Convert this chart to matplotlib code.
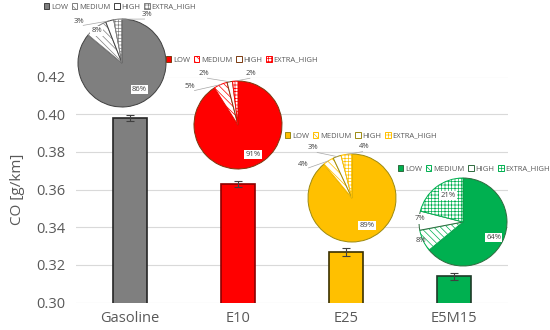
import numpy as np
import matplotlib
matplotlib.use("Agg")
import matplotlib.pyplot as plt

plt.rcParams["font.family"] = ["Open Sans", "DejaVu Sans"]
plt.rcParams["hatch.linewidth"] = 0.5

# data
fuels = ["Gasoline", "E10", "E25", "E5M15"]
co_mean = [0.398, 0.363, 0.327, 0.314]
co_err = [0.0015, 0.0015, 0.002, 0.0017]
load_levels = ["LOW", "MEDIUM", "HIGH", "EXTRA_HIGH"]
share_gasoline = [86, 8, 3, 3]
share_e10 = [91, 5, 2, 2]
share_e25 = [89, 4, 3, 4]
share_e5m15 = [64, 8, 7, 21]
shares = [share_gasoline, share_e10, share_e25, share_e5m15]

# styles
main_col = ["#7F7F7F", "#FF0000", "#FFC000", "#00B050"]
edge_col = ["#404040", "#7B3A10", "#9C8A10", "#2E6B3E"]
bar_edge = ["#262626", "#8B0000", "#3A3000", "#1E3A28"]
W, H = 550, 330
pie_center = [(122, 63), (238, 125), (352, 198), (463, 222)]  # pixels
pie_r = 44
legend_pos = [(120, 7), (242, 60), (361, 136), (474, 169)]  # pixels
# label positions in pie-radius units (LOW, MEDIUM, HIGH, EXTRA_HIGH)
label_pos = [
    [(0.40, -0.60), (-0.57, 0.73), (-0.98, 0.95), (0.57, 1.11)],
    [(0.34, -0.67), (-1.10, 0.87), (-0.77, 1.18), (0.30, 1.18)],
    [(0.34, -0.63), (-1.10, 0.76), (-0.88, 1.15), (0.27, 1.17)],
    [(0.70, -0.36), (-0.95, -0.43), (-0.98, 0.07), (-0.34, 0.61)],
]

fig = plt.figure(figsize=(5.5, 3.3), dpi=100)
ax = fig.add_axes([76 / W, 1 - 302.7 / H, (508 - 76) / W, (302.7 - 76.5) / H])
x = np.arange(len(fuels))
ax.bar(x, co_mean, width=0.32, color=main_col, edgecolor=bar_edge, linewidth=1.2, zorder=2)
ax.errorbar(x, co_mean, yerr=co_err, fmt="none", ecolor="#404040", elinewidth=0.8,
            capsize=3, capthick=0.8, zorder=3)
ax.set_ylim(0.30, 0.42)
ax.set_xlim(-0.5, 3.5)
ax.set_yticks(np.arange(0.30, 0.4201, 0.02))
ax.yaxis.set_major_formatter(matplotlib.ticker.FormatStrFormatter("%.2f"))
ax.set_xticks(x)
ax.set_xticklabels(fuels)
ax.tick_params(axis="y", length=0, labelsize=10.5, colors="#595959", pad=8)
ax.tick_params(axis="x", length=0, labelsize=10.5, colors="#595959", pad=6)
ax.grid(axis="y", color="#D9D9D9", linewidth=0.8, zorder=0)
ax.set_axisbelow(True)
for s in ax.spines.values():
    s.set_visible(False)
ax.set_ylabel("CO [g/km]", fontsize=11, color="#595959", labelpad=8)

for i in range(len(fuels)):
    cx, cy = pie_center[i]
    pax = fig.add_axes([(cx - pie_r) / W, 1 - (cy + pie_r) / H, 2 * pie_r / W, 2 * pie_r / H])
    faces = [main_col[i], "white", "white", "white"]
    hatches = [None, "\\\\\\\\\\", None, "+++++"]
    edges = [edge_col[i], main_col[i], edge_col[i], main_col[i]]
    wedges, _ = pax.pie(shares[i], startangle=90, counterclock=False, colors=faces,
                        wedgeprops=dict(linewidth=0.7))
    for w, h, e in zip(wedges, hatches, edges):
        w.set_edgecolor(e)
        if h:
            w.set_hatch(h)
    pax.set_xlim(-1, 1)
    pax.set_ylim(-1, 1)
    pax.set_aspect("equal")
    pax.axis("off")

    cum = np.cumsum([0] + shares[i])
    for j, v in enumerate(shares[i]):
        lx, ly = label_pos[i][j]
        boxed = np.hypot(lx, ly) < 1.0
        pax.text(lx, ly, f"{v}%", fontsize=5.5, color="#404040", ha="center", va="center",
                 clip_on=False, zorder=5,
                 bbox=dict(boxstyle="square,pad=0.15", fc="white", ec="none") if boxed else None)
        if np.hypot(lx, ly) > 1.08:
            mid = np.deg2rad(90 - 3.6 * (cum[j] + v / 2))
            ex, ey = np.cos(mid), np.sin(mid)
            pax.plot([ex, lx * 0.9], [ey, ly * 0.9], color="#A6A6A6", lw=0.5,
                     clip_on=False, zorder=4)

    lx, ly = legend_pos[i]
    pax.legend(wedges, load_levels, ncol=4, loc="center",
               bbox_to_anchor=(lx / W, 1 - ly / H), bbox_transform=fig.transFigure,
               frameon=False, fontsize=5.5, labelcolor="#595959", handlelength=0.7,
               handleheight=0.7, handletextpad=0.25, columnspacing=0.5, borderpad=0)

fig.savefig("out.png", dpi=100)
